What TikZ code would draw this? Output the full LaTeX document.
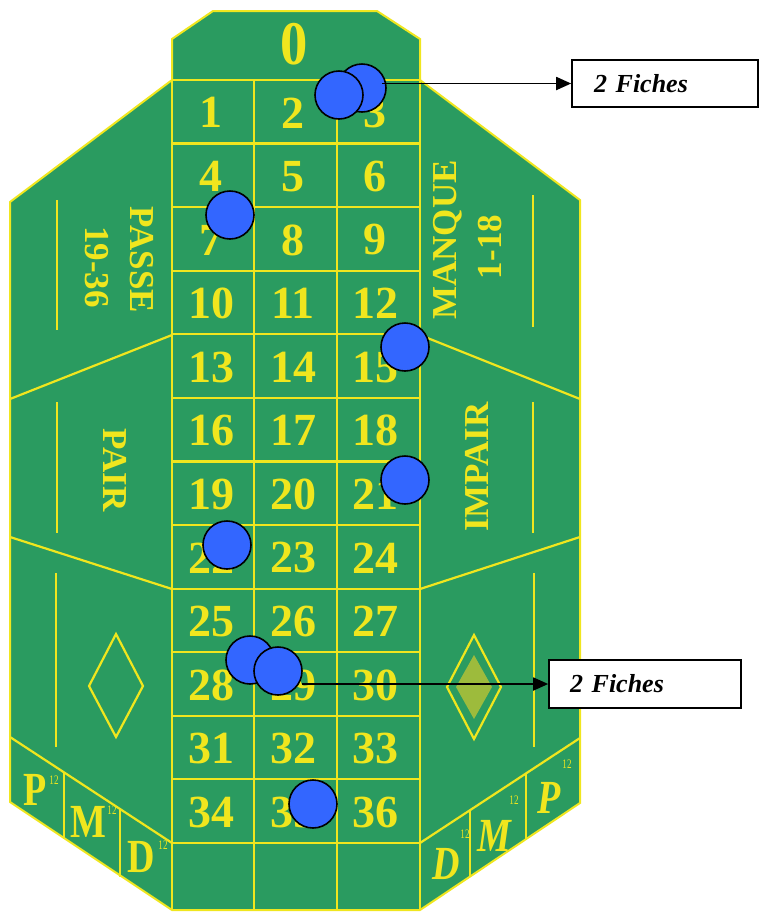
\documentclass[tikz,border=0pt]{standalone}
\usepackage{fontspec}
\setmainfont{Liberation Serif}
\usetikzlibrary{arrows.meta}
\definecolor{felt}{RGB}{42,155,96}
\definecolor{lineyel}{RGB}{240,230,30}
\definecolor{chipblue}{RGB}{51,102,255}
\definecolor{olivefill}{RGB}{157,187,60}
\begin{document}
\begin{tikzpicture}[x=1pt,y=-1pt,
  num/.style={font=\fontsize{46}{46}\selectfont\bfseries, text=lineyel, inner sep=0pt},
  side/.style={font=\fontsize{35}{35}\selectfont\bfseries, text=lineyel, inner sep=0pt},
  letter/.style={font=\fontsize{38}{38}\selectfont\bfseries, text=lineyel, inner sep=0pt, yscale=1.25},
  rletter/.style={font=\fontsize{38}{38}\selectfont\bfseries\itshape, text=lineyel, inner sep=0pt, yscale=1.25},
  sup/.style={font=\fontsize{13}{13}\selectfont, text=lineyel, inner sep=0pt, xscale=0.7},
  gridline/.style={draw=lineyel, line width=2.2pt},
  deco/.style={draw=lineyel, line width=2.2pt},
  chip/.style={circle, draw=black, fill=chipblue, line width=1.6pt, minimum size=48pt, inner sep=0pt},
  fichebox/.style={draw=black, line width=1.6pt, fill=white, minimum height=47pt, align=left,
     font=\fontsize{26}{26}\selectfont\bfseries\itshape},
  arr/.style={line width=1.8pt, -{Triangle[length=15pt,width=13pt]}}
]
\useasboundingbox (0,0) rectangle (760,914);
% table outline
\fill[felt, draw=lineyel, line width=2pt]
  (213,11) -- (377,11) -- (420,39) -- (420,80) -- (580,200) -- (580,803) -- (420,910)
  -- (172,910) -- (10,802) -- (10,202) -- (172,80) -- (172,39) -- cycle;
% grid
\foreach \k in {0,...,12} \draw[gridline] (172,{80+63.58*\k}) -- (420,{80+63.58*\k});
\draw[gridline] (172,39) -- (172,910);
\draw[gridline] (420,39) -- (420,910);
\draw[gridline] (254,80) -- (254,910);
\draw[gridline] (337,80) -- (337,910);
% side dividers
\draw[gridline] (10,399) -- (172,335);
\draw[gridline] (10,537) -- (172,589);
\draw[gridline] (420,335) -- (580,399);
\draw[gridline] (420,589) -- (580,537);
\draw[gridline] (10,737) -- (172,843);
\draw[gridline] (420,843) -- (580,738);
\draw[gridline] (64,773) -- (64,839);
\draw[gridline] (120,810) -- (120,877);
\draw[gridline] (470,810) -- (470,877);
\draw[gridline] (526,773) -- (526,839);
% decorative verticals
\draw[deco] (57,200) -- (57,330);
\draw[deco] (57,402) -- (57,533);
\draw[deco] (56,573) -- (56,747);
\draw[deco] (533,195) -- (533,327);
\draw[deco] (533,402) -- (533,533);
\draw[deco] (534,573) -- (534,747);
% diamonds
\draw[deco] (116,634) -- (143,686) -- (116,737) -- (89,686) -- cycle;
\draw[deco] (474,635) -- (501,687) -- (474,739) -- (447,687) -- cycle;
\fill[olivefill] (474,655) -- (492,687) -- (474,719) -- (456,687) -- cycle;
% zero
\node[num, font=\fontsize{62}{62}\selectfont\bfseries, xscale=0.88] (zero) at (294,44) {0};
% numbers
\foreach \r in {0,...,11} {
  \foreach \c in {1,2,3} {
    \pgfmathtruncatemacro\n{3*\r+\c}
    \node[num] (n\n) at ({211+82*(\c-1)}, {80+63.58*(\r+0.5)+1}) {\n};
  }
}
% side labels
\node[side, rotate=-90] (passe) at (142,260) {PASSE};
\node[side, rotate=-90] (passenum) at (97,267) {19-36};
\node[side, rotate=90] (manque) at (448,240) {MANQUE};
\node[side, rotate=90] (manquenum) at (490,247) {1-18};
\node[side, rotate=-90] (pair) at (115,470) {PAIR};
\node[side, rotate=90] (impair) at (477,467) {IMPAIR};
% P M D left
\node[letter] (lp) at (35,790) {P};
\node[sup] (lps) at (54,780) {12};
\node[letter] (lm) at (88,822) {M};
\node[sup] (lms) at (112,810) {12};
\node[letter] (ld) at (141,857) {D};
\node[sup] (lds) at (163,845) {12};
% D M P right
\node[rletter] (rd) at (446,864) {D};
\node[sup] (rds) at (465,834) {12};
\node[rletter] (rm) at (494,836) {M};
\node[sup] (rms) at (514,800) {12};
\node[rletter] (rp) at (549,798) {P};
\node[sup] (rps) at (567,764) {12};
% chips
\node[chip] (c1b) at (362,88) {};
\node[chip] (c1f) at (339,95) {};
\node[chip] (c2) at (230,215) {};
\node[chip] (c3) at (405,347) {};
\node[chip] (c4) at (405,480) {};
\node[chip] (c5) at (227,545) {};
\node[chip] (c6b) at (250,660) {};
\node[chip] (c6f) at (278,671) {};
\node[chip] (c7) at (313,804) {};
% boxes
\node[fichebox, inner xsep=22pt, text width=142pt] (box1) at (665,83.5) {2 Fiches};
\node[fichebox, inner xsep=21pt, text width=150pt, minimum height=48pt] (box2) at (645,684) {2 Fiches};
% arrows
\coordinate (a1) at (382,83.5);
\coordinate (a2) at (302,684);
\draw[arr] (a1) -- (box1.west);
\draw[arr] (a2) -- (box2.west);
\end{tikzpicture}
\end{document}
